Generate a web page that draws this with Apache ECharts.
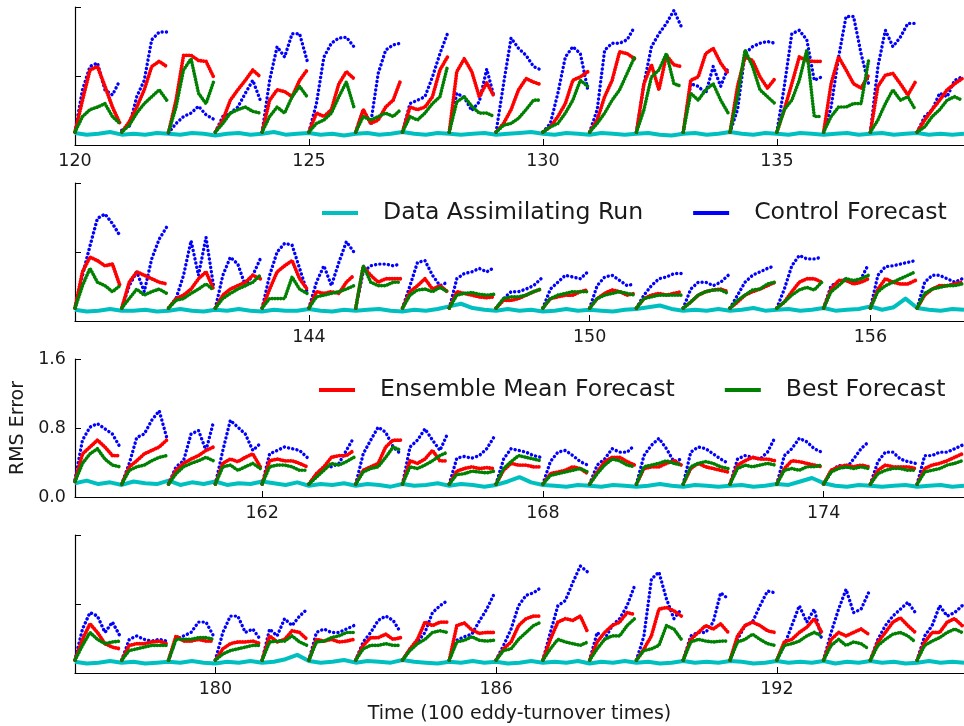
<!DOCTYPE html>
<html>
<head>
<meta charset="utf-8">
<script src="https://cdn.jsdelivr.net/npm/echarts@6/dist/echarts.min.js"></script>
<style>
  html, body { margin: 0; padding: 0; background: #fff; }
  #chart { width: 964px; height: 726px; }
</style>
</head>
<body>
<div id="chart"></div>
<script>
// ---------------- DATA ----------------
const SERIES_NAMES = ['Data Assimilating Run', 'Control Forecast', 'Ensemble Mean Forecast', 'Best Forecast'];
const PANEL_RANGES = [[120, 139], [139, 158], [158, 177], [177, 196]];
const X_TICKS = [[120, 125, 130, 135], [144, 150, 156], [162, 168, 174], [180, 186, 192]];
const Y_TICKS = [0, 0.8, 1.6];
// time offsets of the sampled points inside each 1-unit forecast cycle
const X_OFFSETS = [0, 0.16, 0.32, 0.48, 0.64, 0.80, 0.96];
const ASSIM_STEP = 0.25;

// Data assimilating run (sampled every 0.25 time units)
const ASSIM_1 = [0.14,0.12,0.13,0.15,0.12,0.13,0.12,0.14,0.13,0.12,0.14,0.13,0.11,0.13,0.14,0.12,0.13,0.15,0.12,0.13,0.14,0.12,0.13,0.11,0.13,0.14,0.12,0.13,0.15,0.13,0.12,0.14,0.13,0.12,0.13,0.14,0.12,0.13,0.14,0.15,0.13,0.12,0.14,0.13,0.12,0.14,0.13,0.12,0.13,0.14,0.12,0.11,0.13,0.14,0.12,0.13,0.15,0.13,0.12,0.14,0.13,0.12,0.14,0.13,0.12,0.13,0.14,0.12,0.13,0.14,0.12,0.13,0.14,0.12,0.13,0.12,0.13];
const ASSIM_2 = [0.13,0.11,0.12,0.14,0.12,0.12,0.13,0.11,0.12,0.14,0.12,0.11,0.13,0.12,0.14,0.12,0.11,0.13,0.12,0.12,0.14,0.12,0.11,0.13,0.12,0.13,0.14,0.12,0.11,0.13,0.12,0.14,0.17,0.20,0.15,0.13,0.12,0.14,0.12,0.13,0.11,0.12,0.14,0.12,0.13,0.12,0.11,0.13,0.14,0.16,0.18,0.14,0.12,0.13,0.12,0.14,0.12,0.13,0.15,0.12,0.13,0.14,0.12,0.13,0.15,0.12,0.13,0.14,0.17,0.13,0.16,0.26,0.15,0.13,0.12,0.14,0.13];
const ASSIM_3 = [0.16,0.19,0.15,0.17,0.14,0.18,0.16,0.15,0.19,0.14,0.17,0.15,0.18,0.14,0.16,0.15,0.18,0.16,0.14,0.17,0.13,0.15,0.14,0.16,0.13,0.15,0.14,0.12,0.15,0.13,0.14,0.16,0.13,0.15,0.14,0.12,0.14,0.18,0.23,0.17,0.14,0.13,0.12,0.14,0.13,0.12,0.14,0.13,0.12,0.13,0.15,0.13,0.12,0.14,0.13,0.12,0.13,0.14,0.12,0.13,0.15,0.14,0.18,0.22,0.16,0.13,0.12,0.14,0.13,0.12,0.13,0.14,0.12,0.13,0.14,0.12,0.13];
const ASSIM_4 = [0.13,0.11,0.12,0.14,0.12,0.13,0.11,0.12,0.13,0.12,0.14,0.12,0.11,0.13,0.12,0.14,0.12,0.13,0.16,0.21,0.14,0.12,0.13,0.15,0.12,0.14,0.13,0.12,0.15,0.13,0.12,0.11,0.13,0.12,0.14,0.12,0.13,0.11,0.12,0.14,0.12,0.13,0.12,0.14,0.11,0.13,0.12,0.14,0.12,0.13,0.11,0.12,0.14,0.12,0.13,0.12,0.14,0.13,0.11,0.12,0.14,0.12,0.13,0.12,0.14,0.11,0.13,0.12,0.14,0.12,0.13,0.11,0.12,0.14,0.12,0.13,0.12];

// One row per forecast cycle (cycle k starts at panel start + k)
const CONTROL_1 = [
[0.15,0.64,0.91,0.95,0.64,0.58,0.75],[0.17,0.22,0.56,0.75,1.22,1.31,1.31],[0.14,0.25,0.33,0.37,0.45,0.35,0.30],
[0.15,0.33,0.37,0.44,0.60,0.75,0.52],[0.15,0.75,1.14,1.02,1.29,1.29,0.98],[0.15,0.48,1.02,1.18,1.24,1.25,1.14],
[0.15,0.41,0.25,0.83,1.10,1.16,1.18],[0.15,0.48,0.52,0.56,0.79,1.06,1.29],[0.15,0.60,0.55,0.40,0.50,0.88,0.55],
[0.15,0.71,1.24,1.12,1.04,0.91,0.87],[0.15,0.25,0.60,1.02,1.14,1.06,0.64],[0.15,0.41,1.10,1.18,1.18,1.22,1.37],
[0.15,0.71,1.14,1.29,1.41,1.56,1.37],[0.15,0.71,0.68,0.60,0.91,0.68,0.90],[0.15,0.41,1.06,1.14,1.18,1.20,1.18],
[0.15,0.68,1.29,1.33,1.22,0.75,0.79],[0.15,0.44,1.02,1.49,1.49,1.06,0.71],[0.15,0.91,1.33,1.14,1.25,1.41,1.41],
[0.15,0.33,0.41,0.60,0.56,0.75,0.79]];
const ENSEMBLE_1 = [
[0.15,0.52,0.87,0.91,0.68,0.44,0.25],[0.15,0.27,0.44,0.64,0.91,0.97,0.91],[0.15,0.52,1.04,1.04,0.98,0.97,0.79],
[0.15,0.29,0.52,0.64,0.75,0.87,0.79],[0.15,0.52,0.64,0.62,0.56,0.75,0.87],[0.15,0.37,0.33,0.41,0.71,0.85,0.77],
[0.15,0.41,0.25,0.29,0.44,0.52,0.75],[0.15,0.44,0.41,0.44,0.56,0.87,1.02],[0.15,0.85,1.00,0.85,0.56,0.72,0.56],
[0.15,0.25,0.41,0.64,0.77,0.73,0.70],[0.15,0.21,0.33,0.48,0.75,0.79,0.85],[0.15,0.29,0.56,0.75,1.08,1.06,1.00],
[0.15,0.71,0.93,0.64,1.04,0.93,0.91],[0.15,0.75,0.79,1.06,1.12,0.95,0.83],[0.15,0.68,1.02,0.98,0.79,0.66,0.77],
[0.15,0.41,0.71,1.02,0.98,0.97,0.97],[0.15,0.71,1.02,0.87,0.71,0.66,0.81],[0.15,0.68,0.81,0.83,0.71,0.58,0.73],
[0.15,0.29,0.41,0.52,0.64,0.71,0.77]];
const BEST_1 = [
[0.15,0.33,0.41,0.44,0.48,0.33,0.25],[0.15,0.23,0.37,0.48,0.56,0.64,0.52],[0.15,0.44,0.87,1.00,0.60,0.48,0.73],
[0.15,0.25,0.37,0.41,0.44,0.39,0.37],[0.15,0.33,0.44,0.37,0.56,0.68,0.56],[0.15,0.25,0.29,0.37,0.56,0.73,0.44],
[0.15,0.33,0.29,0.33,0.37,0.33,0.41],[0.15,0.33,0.29,0.37,0.48,0.56,0.91],[0.15,0.50,0.56,0.45,0.37,0.37,0.33],
[0.15,0.23,0.25,0.31,0.41,0.52,0.52],[0.15,0.21,0.25,0.37,0.52,0.75,0.68],[0.15,0.25,0.37,0.52,0.64,0.83,1.02],
[0.15,0.41,0.79,0.87,1.06,0.71,0.68],[0.15,0.60,0.52,0.64,0.71,0.52,0.37],[0.15,0.56,1.10,0.91,0.64,0.56,0.48],
[0.15,0.41,0.52,0.75,1.10,0.33,0.33],[0.15,0.33,0.44,0.44,0.48,0.48,0.98],[0.15,0.29,0.48,0.64,0.52,0.56,0.41],
[0.15,0.21,0.33,0.41,0.52,0.56,0.52]];

const CONTROL_2 = [
[0.15,0.53,0.87,1.19,1.24,1.13,0.99],[0.15,0.41,0.57,0.34,0.72,0.95,1.09],[0.15,0.26,0.53,0.93,0.53,0.97,0.41],
[0.15,0.53,0.74,0.66,0.41,0.53,0.72],[0.15,0.53,0.80,0.90,0.88,0.61,0.34],[0.15,0.45,0.64,0.41,0.68,0.92,0.80],
[0.15,0.57,0.64,0.66,0.66,0.64,0.66],[0.15,0.41,0.68,0.70,0.53,0.41,0.45],[0.15,0.49,0.55,0.57,0.61,0.57,0.62],
[0.15,0.26,0.34,0.34,0.37,0.41,0.49],[0.15,0.37,0.45,0.53,0.51,0.49,0.57],[0.15,0.41,0.51,0.53,0.47,0.41,0.43],
[0.15,0.30,0.41,0.49,0.51,0.55,0.55],[0.15,0.37,0.45,0.45,0.41,0.45,0.53],[0.15,0.30,0.45,0.53,0.57,0.61,0.64],
[0.15,0.37,0.64,0.76,0.72,0.72,0.74],[0.15,0.41,0.45,0.49,0.45,0.49,0.66],[0.15,0.53,0.63,0.64,0.66,0.68,0.70],
[0.15,0.45,0.53,0.53,0.49,0.45,0.49]];
const ENSEMBLE_2 = [
[0.15,0.57,0.74,0.70,0.64,0.66,0.41],[0.15,0.45,0.57,0.53,0.49,0.45,0.43],[0.15,0.26,0.30,0.37,0.49,0.57,0.37],
[0.15,0.30,0.37,0.41,0.45,0.53,0.49],[0.15,0.37,0.57,0.64,0.70,0.49,0.37],[0.15,0.34,0.32,0.34,0.32,0.45,0.53],
[0.15,0.63,0.53,0.45,0.49,0.49,0.49],[0.15,0.34,0.41,0.49,0.37,0.41,0.34],[0.15,0.34,0.32,0.30,0.28,0.27,0.28],
[0.15,0.24,0.24,0.26,0.30,0.34,0.37],[0.15,0.26,0.28,0.30,0.30,0.34,0.36],[0.15,0.26,0.32,0.36,0.34,0.30,0.32],
[0.15,0.26,0.30,0.32,0.30,0.32,0.34],[0.15,0.22,0.30,0.34,0.36,0.37,0.34],[0.15,0.22,0.30,0.34,0.37,0.41,0.45],
[0.15,0.22,0.34,0.45,0.49,0.49,0.45],[0.15,0.37,0.47,0.47,0.43,0.45,0.49],[0.15,0.37,0.49,0.45,0.43,0.43,0.47],
[0.15,0.30,0.37,0.41,0.41,0.43,0.45]];
const BEST_2 = [
[0.15,0.41,0.61,0.45,0.41,0.34,0.41],[0.15,0.26,0.37,0.30,0.34,0.37,0.32],[0.15,0.24,0.26,0.32,0.37,0.43,0.36],
[0.15,0.26,0.32,0.37,0.41,0.45,0.53],[0.15,0.26,0.26,0.26,0.51,0.37,0.32],[0.15,0.28,0.30,0.32,0.34,0.37,0.41],
[0.15,0.64,0.45,0.41,0.41,0.45,0.45],[0.15,0.30,0.36,0.37,0.34,0.39,0.34],[0.15,0.30,0.32,0.33,0.31,0.30,0.31],
[0.15,0.26,0.28,0.28,0.30,0.34,0.37],[0.15,0.26,0.30,0.32,0.34,0.34,0.34],[0.15,0.26,0.30,0.32,0.34,0.32,0.30],
[0.15,0.26,0.28,0.30,0.30,0.30,0.30],[0.15,0.22,0.30,0.34,0.36,0.36,0.32],[0.15,0.24,0.30,0.36,0.37,0.43,0.45],
[0.15,0.22,0.30,0.36,0.39,0.36,0.45],[0.15,0.34,0.41,0.49,0.47,0.49,0.53],[0.15,0.34,0.41,0.45,0.49,0.53,0.57],
[0.15,0.32,0.37,0.39,0.41,0.41,0.43]];

const CONTROL_3 = [
[0.20,0.66,0.81,0.85,0.79,0.73,0.58],[0.15,0.39,0.69,0.73,0.89,1.00,0.69],[0.15,0.35,0.42,0.73,0.77,0.54,0.87],
[0.15,0.54,0.89,0.81,0.73,0.54,0.62],[0.15,0.50,0.54,0.58,0.56,0.54,0.46],[0.15,0.27,0.35,0.35,0.39,0.54,0.69],
[0.15,0.50,0.66,0.81,0.75,0.58,0.50],[0.15,0.58,0.66,0.79,0.66,0.54,0.73],[0.15,0.45,0.47,0.45,0.48,0.56,0.70],
[0.15,0.44,0.56,0.54,0.52,0.48,0.46],[0.15,0.41,0.52,0.54,0.48,0.41,0.37],[0.15,0.37,0.44,0.56,0.52,0.52,0.60],
[0.15,0.48,0.60,0.68,0.56,0.41,0.44],[0.15,0.52,0.58,0.56,0.50,0.44,0.39],[0.15,0.44,0.48,0.46,0.44,0.52,0.69],
[0.15,0.48,0.56,0.68,0.64,0.56,0.52],[0.15,0.29,0.37,0.33,0.44,0.56,0.64],[0.15,0.41,0.52,0.52,0.44,0.41,0.39],
[0.15,0.48,0.48,0.52,0.52,0.56,0.60]];
const ENSEMBLE_3 = [
[0.18,0.50,0.58,0.66,0.58,0.48,0.48],[0.15,0.35,0.42,0.50,0.54,0.58,0.66],[0.15,0.31,0.39,0.44,0.48,0.54,0.58],
[0.15,0.39,0.44,0.41,0.46,0.50,0.35],[0.15,0.42,0.44,0.42,0.42,0.39,0.35],[0.15,0.27,0.35,0.46,0.48,0.48,0.54],
[0.15,0.31,0.35,0.39,0.58,0.66,0.66],[0.15,0.42,0.39,0.44,0.54,0.42,0.42],[0.15,0.30,0.33,0.35,0.33,0.34,0.33],
[0.15,0.31,0.39,0.37,0.37,0.35,0.35],[0.15,0.27,0.29,0.31,0.35,0.33,0.27],[0.15,0.29,0.41,0.46,0.46,0.41,0.37],
[0.15,0.33,0.35,0.35,0.39,0.42,0.37],[0.15,0.33,0.39,0.35,0.33,0.31,0.29],[0.15,0.37,0.42,0.46,0.44,0.44,0.42],
[0.15,0.33,0.42,0.41,0.39,0.37,0.35],[0.15,0.31,0.35,0.37,0.35,0.37,0.35],[0.15,0.31,0.37,0.35,0.35,0.35,0.33],
[0.15,0.33,0.37,0.39,0.42,0.46,0.50]];
const BEST_3 = [
[0.18,0.39,0.50,0.56,0.44,0.37,0.35],[0.15,0.31,0.35,0.37,0.42,0.46,0.48],[0.15,0.27,0.35,0.39,0.42,0.46,0.42],
[0.15,0.35,0.37,0.31,0.35,0.39,0.33],[0.15,0.35,0.37,0.37,0.35,0.31,0.31],[0.15,0.23,0.31,0.39,0.37,0.41,0.46],
[0.15,0.29,0.33,0.35,0.46,0.58,0.54],[0.15,0.35,0.33,0.37,0.42,0.48,0.52],[0.15,0.26,0.27,0.30,0.29,0.28,0.30],
[0.15,0.33,0.41,0.48,0.46,0.44,0.42],[0.15,0.25,0.27,0.29,0.31,0.33,0.29],[0.15,0.27,0.37,0.44,0.42,0.37,0.35],
[0.15,0.35,0.37,0.39,0.42,0.39,0.37],[0.15,0.35,0.39,0.41,0.39,0.35,0.33],[0.15,0.33,0.37,0.35,0.37,0.39,0.37],
[0.15,0.31,0.33,0.31,0.35,0.35,0.37],[0.15,0.29,0.33,0.35,0.33,0.35,0.33],[0.15,0.27,0.31,0.33,0.33,0.31,0.31],
[0.15,0.29,0.31,0.33,0.37,0.39,0.42]];

const CONTROL_4 = [
[0.15,0.51,0.70,0.66,0.47,0.59,0.43],[0.15,0.39,0.43,0.39,0.37,0.39,0.37],[0.15,0.39,0.43,0.47,0.59,0.59,0.43],
[0.15,0.47,0.66,0.66,0.47,0.51,0.39],[0.15,0.51,0.43,0.63,0.55,0.66,0.74],[0.15,0.47,0.51,0.47,0.47,0.51,0.55],
[0.15,0.36,0.47,0.61,0.66,0.61,0.47],[0.15,0.28,0.36,0.47,0.70,0.78,0.84],[0.15,0.38,0.42,0.45,0.60,0.74,0.92],
[0.15,0.32,0.51,0.78,0.90,0.93,0.99],[0.15,0.47,0.78,0.84,1.05,1.24,1.17],[0.15,0.47,0.39,0.55,0.63,0.78,1.01],
[0.15,0.43,1.09,1.17,0.86,0.63,0.74],[0.15,0.43,0.47,0.47,0.59,0.93,0.86],[0.15,0.39,0.55,0.59,0.78,0.95,0.93],
[0.15,0.32,0.55,0.78,0.59,0.74,0.39],[0.15,0.47,0.74,0.97,0.70,0.74,0.93],[0.15,0.39,0.55,0.66,0.74,0.82,0.70],
[0.15,0.43,0.55,0.78,0.66,0.70,0.78]];
const ENSEMBLE_4 = [
[0.15,0.39,0.57,0.47,0.34,0.30,0.28],[0.15,0.32,0.34,0.34,0.36,0.37,0.34],[0.15,0.43,0.37,0.37,0.39,0.37,0.37],
[0.15,0.28,0.34,0.36,0.36,0.37,0.34],[0.15,0.43,0.36,0.39,0.49,0.47,0.39],[0.15,0.39,0.37,0.39,0.36,0.37,0.39],
[0.15,0.32,0.41,0.41,0.45,0.39,0.41],[0.15,0.28,0.39,0.59,0.55,0.59,0.59],[0.15,0.55,0.58,0.50,0.46,0.47,0.47],
[0.15,0.28,0.36,0.55,0.63,0.66,0.66],[0.15,0.39,0.59,0.63,0.61,0.66,0.47],[0.15,0.36,0.47,0.55,0.59,0.70,0.68],
[0.15,0.28,0.43,0.74,0.76,0.72,0.66],[0.15,0.39,0.47,0.55,0.51,0.57,0.47],[0.15,0.43,0.55,0.59,0.55,0.49,0.47],
[0.15,0.36,0.39,0.47,0.53,0.63,0.47],[0.15,0.39,0.47,0.43,0.47,0.51,0.45],[0.15,0.36,0.47,0.59,0.64,0.55,0.47],
[0.15,0.36,0.47,0.47,0.59,0.63,0.55]];
const BEST_4 = [
[0.15,0.32,0.47,0.39,0.34,0.36,0.37],[0.15,0.26,0.28,0.30,0.32,0.32,0.32],[0.15,0.39,0.39,0.39,0.41,0.41,0.39],
[0.15,0.22,0.26,0.28,0.30,0.32,0.32],[0.15,0.36,0.37,0.37,0.43,0.36,0.32],[0.15,0.36,0.37,0.41,0.43,0.47,0.47],
[0.15,0.28,0.32,0.32,0.34,0.32,0.32],[0.15,0.26,0.34,0.39,0.47,0.49,0.47],[0.15,0.36,0.38,0.42,0.38,0.37,0.38],
[0.15,0.26,0.28,0.39,0.47,0.55,0.59],[0.15,0.28,0.39,0.36,0.34,0.32,0.36],[0.15,0.28,0.39,0.43,0.43,0.55,0.63],
[0.15,0.26,0.28,0.32,0.55,0.51,0.39],[0.15,0.36,0.39,0.37,0.36,0.37,0.37],[0.15,0.36,0.39,0.45,0.39,0.34,0.32],
[0.15,0.32,0.34,0.37,0.43,0.47,0.43],[0.15,0.32,0.39,0.32,0.36,0.34,0.28],[0.15,0.32,0.39,0.45,0.47,0.43,0.36],
[0.15,0.32,0.37,0.41,0.47,0.51,0.47]];

// ---------------- CHART ----------------
const ASSIM = [ASSIM_1, ASSIM_2, ASSIM_3, ASSIM_4];
const CONTROL = [CONTROL_1, CONTROL_2, CONTROL_3, CONTROL_4];
const ENSEMBLE = [ENSEMBLE_1, ENSEMBLE_2, ENSEMBLE_3, ENSEMBLE_4];
const BEST = [BEST_1, BEST_2, BEST_3, BEST_4];

const COLORS = ['#00bfbf', '#0000ff', '#ff0000', '#008000'];
const FONT = 'DejaVu Sans';
const TXT = '#1a1a1a';
const PANEL_TOPS = [7, 183, 359, 535];
const GRID_LEFT = 75, GRID_W = 890, GRID_H = 138;

const grid = PANEL_TOPS.map(t => ({ left: GRID_LEFT, top: t, width: GRID_W, height: GRID_H }));

const xAxis = PANEL_RANGES.map((r, i) => ({
  type: 'value', gridIndex: i, min: r[0], max: r[1],
  axisLine: { show: true, onZero: false, lineStyle: { color: '#000', width: 1.2 } },
  axisTick: { show: true, inside: true, length: 6, customValues: X_TICKS[i], lineStyle: { color: '#000', width: 1 } },
  axisLabel: { show: true, customValues: X_TICKS[i], fontFamily: FONT, fontSize: 17.5, color: TXT, margin: 7 },
  splitLine: { show: false },
  name: i === 3 ? 'Time (100 eddy-turnover times)' : '',
  nameLocation: 'middle', nameGap: 32,
  nameTextStyle: { fontFamily: FONT, fontSize: 19, color: TXT }
}));

const yAxis = PANEL_RANGES.map((r, i) => ({
  type: 'value', gridIndex: i, min: Y_TICKS[0], max: Y_TICKS[Y_TICKS.length - 1], interval: 0.8,
  axisLine: { show: true, lineStyle: { color: '#000', width: 1.2 } },
  axisTick: { show: true, inside: true, length: 6, lineStyle: { color: '#000', width: 1 } },
  axisLabel: { show: i === 2, fontFamily: FONT, fontSize: 17.5, color: TXT, margin: 9,
               formatter: v => v.toFixed(1) },
  splitLine: { show: false },
  name: i === 2 ? 'RMS Error' : '',
  nameLocation: 'middle', nameGap: 42, nameRotate: 90,
  nameTextStyle: { fontFamily: FONT, fontSize: 19, color: TXT }
}));

// line looks per series: dotted texture like the densely sampled scatter of the original
const LOOKS = [
  { width: 4, type: 'solid' },
  { width: 3.4, type: [0.1, 4.2] },
  { width: 3.8, type: [0.1, 2.6] },
  { width: 3.6, type: [0.1, 2.8] }
];

const series = [];
function addCycles(panel, cycles, nameIdx, z) {
  const start = PANEL_RANGES[panel][0];
  cycles.forEach((vals, c) => {
    series.push({
      type: 'line', name: SERIES_NAMES[nameIdx], xAxisIndex: panel, yAxisIndex: panel,
      data: vals.map((v, k) => [start + c + X_OFFSETS[k], v]),
      symbol: 'none', showSymbol: false, z: z,
      lineStyle: { color: COLORS[nameIdx], width: LOOKS[nameIdx].width, type: LOOKS[nameIdx].type,
                   join: 'round', cap: 'round' },
      itemStyle: { color: COLORS[nameIdx] }
    });
  });
}
for (let p = 0; p < 4; p++) {
  const start = PANEL_RANGES[p][0];
  series.push({
    type: 'line', name: SERIES_NAMES[0], xAxisIndex: p, yAxisIndex: p,
    data: ASSIM[p].map((v, i) => [start + i * ASSIM_STEP, v]),
    symbol: 'none', showSymbol: false, z: 2,
    lineStyle: { color: COLORS[0], width: LOOKS[0].width, join: 'round' },
    itemStyle: { color: COLORS[0] }
  });
  addCycles(p, CONTROL[p], 1, 3);
  addCycles(p, ENSEMBLE[p], 2, 4);
  addCycles(p, BEST[p], 3, 5);
}

const legendCommon = {
  orient: 'horizontal', icon: 'rect', itemWidth: 36, itemHeight: 4, itemGap: 50,
  padding: 0, selectedMode: false,
  textStyle: { fontFamily: FONT, fontSize: 23.6, color: TXT, lineHeight: 26, padding: [0, 0, 0, 20] }
};

const option = {
  animation: false,
  backgroundColor: '#ffffff',
  grid, xAxis, yAxis, series,
  legend: [
    Object.assign({}, legendCommon, { data: [SERIES_NAMES[0], SERIES_NAMES[1]], left: 322, top: 200 }),
    Object.assign({}, legendCommon, { data: [SERIES_NAMES[2], SERIES_NAMES[3]], left: 319, top: 377 })
  ]
};

const chart = echarts.init(document.getElementById('chart'), null, { renderer: 'canvas' });
chart.setOption(option);
</script>
</body>
</html>
